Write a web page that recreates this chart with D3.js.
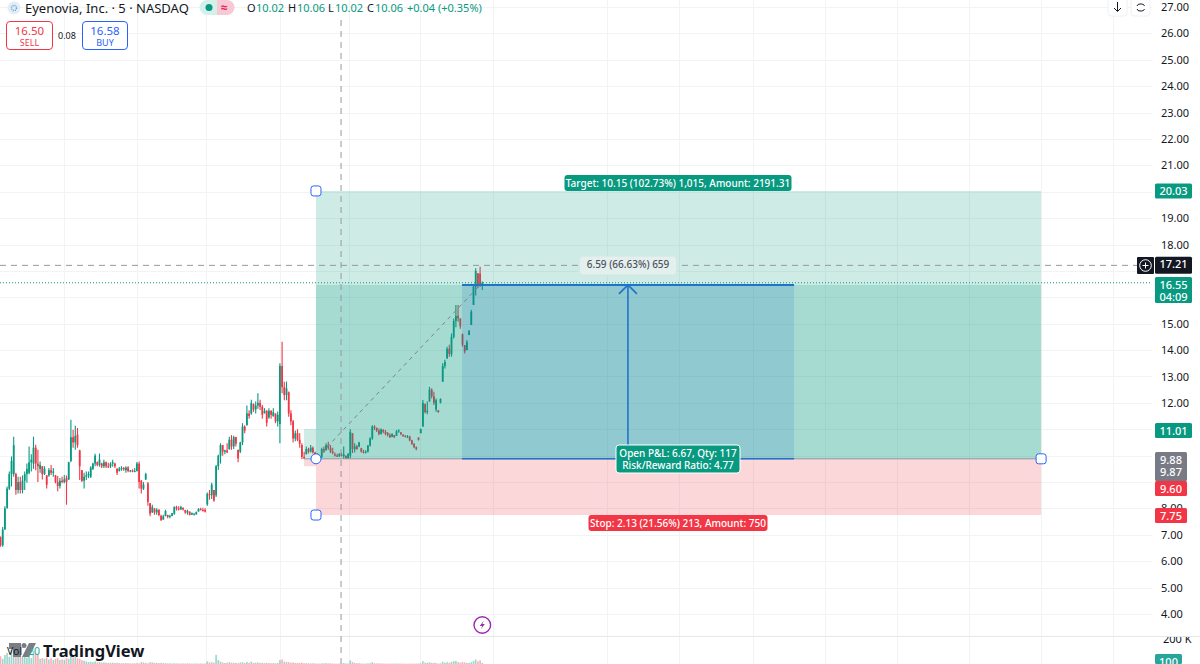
<!DOCTYPE html>
<html>
<head>
<meta charset="utf-8">
<script src="https://cdn.jsdelivr.net/npm/d3@7"></script>
<style>
  html, body { margin: 0; padding: 0; background: #fff; overflow: hidden; }
  text { font-family: "Noto Sans", "Open Sans", sans-serif; }
</style>
</head>
<body>
<svg id="chart" width="1200" height="664"></svg>
<script>
// 5 min candles, one row = 10 bars
const opens = [
  6.93,6.60,7.20,8.00,8.75,9.30,9.30,9.30,8.70,9.00,
  8.70,9.05,9.30,9.35,9.75,9.70,10.30,9.70,9.50,9.60,
  9.30,9.25,9.25,9.45,9.35,9.25,9.00,8.85,9.05,9.00,
  9.15,9.10,9.80,10.70,10.50,10.80,10.20,9.45,9.05,9.20,
  9.25,9.20,9.50,9.70,9.75,9.65,9.70,9.60,9.75,9.60,
  9.60,9.70,9.70,9.50,9.42,9.50,9.53,9.45,9.55,9.42,
  9.44,9.40,9.42,9.70,9.05,8.75,9.10,8.95,8.20,7.85,
  8.00,7.85,7.95,7.72,7.58,7.72,7.75,7.68,7.72,7.80,
  8.05,8.00,7.96,8.03,7.94,7.84,7.88,7.76,7.78,7.78,
  7.88,7.98,7.94,7.95,8.15,8.55,8.50,8.70,8.50,9.60,
  10.00,10.40,10.15,10.20,10.25,10.60,10.35,10.70,10.22,10.15,
  10.50,11.10,11.15,11.60,11.60,11.95,11.75,11.90,12.00,11.85,
  11.60,11.70,11.45,11.70,11.50,11.60,11.30,11.20,13.40,12.60,
  12.30,12.40,11.60,11.30,10.65,10.85,10.60,10.40,9.95,10.05,
  10.25,10.15,10.30,10.12,10.02,9.95,9.95,10.25,10.20,10.40,
  10.30,10.15,10.05,10.00,9.98,10.05,9.98,10.00,9.90,10.00,
  10.85,10.25,10.35,10.35,10.28,10.15,10.12,10.15,10.38,10.65,
  11.10,11.05,10.95,10.82,10.98,10.90,10.85,10.78,10.72,10.78,
  10.75,10.92,10.88,10.80,10.74,10.70,10.72,10.58,10.45,10.32,
  10.68,10.85,11.10,11.95,11.65,12.05,12.50,12.25,11.75,11.72,
  12.00,12.80,13.40,13.68,14.05,13.85,14.50,15.10,15.30,15.20,
  14.60,14.19,14.00,14.57,14.95,15.71,16.40,16.91,16.90,16.45
];
const highs = [
  6.93,7.30,8.08,8.83,9.40,9.97,10.72,9.35,9.20,9.20,
  9.25,9.40,9.70,10.35,10.05,10.72,10.41,10.22,9.78,9.60,
  9.60,9.27,9.53,9.65,9.53,9.27,9.23,9.15,9.20,9.27,
  9.25,9.77,11.36,10.98,11.13,11.05,10.22,9.46,9.35,9.40,
  9.40,9.60,9.73,10.07,9.78,10.08,9.73,9.84,9.78,9.73,
  9.75,9.84,9.73,9.53,9.57,9.60,9.57,9.60,9.60,9.46,
  9.48,9.53,9.76,9.78,9.08,9.00,9.35,9.00,8.20,8.14,
  8.01,8.01,7.97,7.76,7.76,7.95,7.76,7.76,7.83,8.08,
  8.10,8.08,8.10,8.03,7.95,7.95,7.88,7.85,7.82,7.88,
  8.01,8.03,8.03,8.01,8.60,8.70,8.97,8.70,9.65,10.03,
  10.47,10.40,10.22,10.47,10.72,10.78,10.75,10.72,10.22,10.53,
  11.23,11.15,11.90,11.72,12.12,11.98,12.05,12.36,12.12,11.92,
  11.80,11.72,11.80,11.72,11.80,11.60,11.67,13.50,14.32,12.80,
  12.81,12.43,11.72,11.35,10.95,11.00,10.85,10.47,10.15,10.35,
  10.30,10.40,10.35,10.15,10.10,10.03,10.30,10.35,10.47,10.53,
  10.40,10.30,10.12,10.07,10.10,10.12,10.35,10.00,10.10,11.00,
  10.85,10.47,10.40,10.53,10.30,10.22,10.20,10.40,10.70,11.15,
  11.15,11.07,11.03,11.03,11.00,10.97,10.90,10.85,10.85,10.78,
  10.97,11.00,10.90,10.80,10.78,10.78,10.75,10.60,10.47,10.35,
  10.70,11.03,12.11,11.98,12.05,12.61,12.55,12.42,12.17,11.72,
  12.17,13.50,13.63,14.13,14.20,14.63,15.20,15.71,15.71,15.20,
  14.63,14.19,14.38,14.76,15.53,16.47,17.10,16.91,17.16,16.60
];
const lows = [
  6.55,6.55,7.19,8.14,8.70,8.83,9.20,8.52,8.57,8.57,
  8.57,8.70,8.97,9.30,9.40,9.50,9.45,9.00,9.35,9.10,
  9.27,8.76,9.20,9.27,9.20,8.95,8.65,8.76,8.95,8.95,
  8.14,9.08,9.75,10.30,10.22,10.30,9.08,9.00,8.76,9.08,
  9.15,9.15,9.46,9.60,9.60,9.58,9.53,9.53,9.53,9.53,
  9.53,9.58,9.53,9.27,9.40,9.43,9.43,9.35,9.37,9.37,
  9.37,9.37,9.40,8.76,8.57,8.70,9.08,8.10,7.70,7.83,
  7.76,7.76,7.70,7.53,7.57,7.70,7.63,7.63,7.70,7.76,
  7.92,7.92,7.95,7.92,7.80,7.76,7.73,7.76,7.73,7.76,
  7.88,7.92,7.88,7.85,8.10,8.33,8.36,8.25,8.43,9.46,
  9.70,10.00,10.05,10.10,10.22,10.22,10.25,10.35,9.75,10.10,
  10.40,10.85,11.15,11.40,11.55,11.66,11.60,11.78,11.73,11.40,
  11.60,11.10,11.40,11.40,11.47,11.23,11.10,10.47,12.36,12.10,
  12.10,11.47,11.15,10.50,10.55,10.55,10.30,9.87,9.87,10.05,
  10.08,10.12,10.08,10.00,9.95,9.90,9.90,10.10,10.20,10.22,
  10.10,10.05,9.97,9.95,9.95,9.97,9.90,9.87,9.87,9.90,
  10.10,10.12,10.22,10.32,10.12,10.08,10.08,10.12,10.35,10.60,
  10.97,10.90,10.77,10.80,10.85,10.77,10.73,10.67,10.70,10.67,
  10.75,10.87,10.77,10.72,10.70,10.67,10.55,10.40,10.28,10.20,
  10.57,10.85,11.10,11.60,11.57,12.05,12.17,11.92,11.66,11.63,
  11.98,12.80,13.30,13.68,13.75,13.75,14.44,14.87,15.07,14.81,
  14.13,13.87,14.00,14.57,14.95,15.71,16.07,16.34,16.40,16.28
];
const closes = [
  6.60,7.20,8.00,8.75,9.30,9.80,10.40,8.70,9.00,8.70,
  9.05,9.30,9.50,9.75,9.85,10.30,9.70,9.60,9.65,9.30,
  9.50,8.90,9.45,9.35,9.40,9.00,8.85,9.05,9.00,9.10,
  9.00,9.75,10.70,10.50,10.75,10.40,9.60,9.05,9.20,9.25,
  9.30,9.55,9.70,10.00,9.65,9.85,9.60,9.75,9.60,9.58,
  9.70,9.75,9.60,9.35,9.50,9.53,9.48,9.55,9.42,9.44,
  9.40,9.42,9.70,9.00,8.75,8.90,9.30,8.25,7.80,8.05,
  7.85,7.95,7.75,7.55,7.70,7.90,7.68,7.72,7.82,8.05,
  8.00,7.96,8.05,7.96,7.84,7.90,7.76,7.82,7.80,7.86,
  7.98,7.94,7.90,7.88,8.55,8.50,8.90,8.30,9.60,10.00,
  10.40,10.15,10.20,10.12,10.60,10.35,10.70,10.45,9.90,10.50,
  11.10,10.95,11.60,11.50,12.00,11.75,11.90,12.00,11.85,11.55,
  11.70,11.25,11.70,11.55,11.65,11.30,11.55,13.40,12.60,12.30,
  12.55,11.60,11.30,10.65,10.85,10.60,10.45,9.95,9.90,10.25,
  10.15,10.30,10.12,10.02,10.00,10.00,10.25,10.15,10.40,10.30,
  10.15,10.10,10.00,9.98,10.05,10.00,10.05,9.90,10.05,10.90,
  10.25,10.35,10.25,10.50,10.15,10.12,10.15,10.38,10.65,11.10,
  11.05,10.95,10.82,11.00,10.90,10.82,10.78,10.70,10.82,10.70,
  10.92,10.95,10.82,10.74,10.72,10.72,10.58,10.45,10.32,10.25,
  10.60,11.00,12.00,11.65,11.70,12.50,12.25,12.00,12.10,11.65,
  12.15,13.40,13.55,14.05,13.85,14.50,15.10,15.30,15.20,14.90,
  14.20,13.95,14.30,14.72,15.45,16.40,17.00,16.45,16.50,16.55
];
// volume in thousands
const volumes = [
  60,40,70,85,55,108,90,75,60,65,
  55,70,50,60,45,100,80,70,40,45,
  40,50,35,45,30,40,45,30,35,30,
  45,40,65,50,55,45,40,30,25,20,
  15,18,14,20,12,15,10,12,10,9,
  9,10,8,9,7,6,6,7,6,5,
  5,5,6,5,15,12,8,6,14,12,
  10,8,7,9,7,6,5,5,4,6,
  5,4,4,4,4,5,4,3,3,4,
  4,4,3,4,20,12,14,10,70,30,
  18,12,8,10,14,10,10,8,6,12,
  14,8,16,9,18,8,10,12,8,9,
  7,9,7,6,7,6,8,30,35,18,
  15,14,10,12,8,8,8,10,6,6,
  5,5,6,4,4,3,5,5,6,5,
  5,4,3,3,3,3,8,4,4,28,
  15,8,6,6,4,3,3,5,6,14,
  6,5,5,4,4,4,3,3,3,3,
  4,3,3,3,2,2,3,3,3,3,
  4,5,22,10,9,14,8,9,7,3,
  5,18,10,14,10,16,22,24,14,10,
  16,12,8,8,14,24,35,20,28,8
];

const yTicks = d3.range(4, 28);
// these sit behind a price tag in the reference, so they never show
const hiddenTicks = [9, 10, 11, 16, 17, 20];
const gridBars = [28.9, 62, 93.4, 127, 158.4, 190.7, 223.9, 275.7, 308.4, 342, 374.8, 407.5, 440.2, 472.9, 505.7];

// long position tool
const targetPrice = 20.03, entryPrice = 9.88, stopPrice = 7.75, lastPrice = 16.55, crossPrice = 17.21;
const rangeTop = 16.47; // entry + 6.59
const toolStart = 143.4, toolEnd = 473, rangeStart = 209.8, rangeEnd = 360.7, arrowBar = 285.2, crossBar = 154.8, signalBar = 219;

const GREEN = "#089981", RED = "#f23645", BLUE = "#2173c9", HANDLE = "#2962ff";
const INK = "#131722";
const plotRight = 1152;

const svg = d3.select("#chart");

const x = d3.scaleLinear().domain([0, 219]).range([0.5, 482.3]);
const y = d3.scaleLinear().domain([27, 4]).range([7, 614]);
const yVol = d3.scaleLinear().domain([0, 200]).range([664, 638]);

function txt(g, px, py, s, size, fill, anchor, weight) {
  return g.append("text").attr("x", px).attr("y", py).text(s)
    .attr("font-size", size).attr("fill", fill)
    .attr("text-anchor", anchor || "start")
    .attr("font-weight", weight || 400);
}

// grid
const grid = svg.append("g").attr("stroke", "#f2f3f5").attr("stroke-width", 1);
yTicks.forEach(t => grid.append("line").attr("x1", 0).attr("x2", plotRight).attr("y1", Math.round(y(t)) + 0.5).attr("y2", Math.round(y(t)) + 0.5));
gridBars.forEach(b => grid.append("line").attr("x1", Math.round(x(b)) + 0.5).attr("x2", Math.round(x(b)) + 0.5).attr("y1", 0).attr("y2", 664));
svg.append("line").attr("x1", 0).attr("x2", 1200).attr("y1", 636.5).attr("y2", 636.5).attr("stroke", "#e6e8ec");

// volume
svg.append("g").selectAll("rect").data(volumes).join("rect")
  .attr("x", (d, i) => x(i) - 0.8).attr("width", 1.6)
  .attr("y", d => yVol(d)).attr("height", d => 664 - yVol(d))
  .attr("fill", (d, i) => closes[i] >= opens[i] ? GREEN : RED).attr("opacity", 0.4);

// candles
const candles = svg.append("g").selectAll("g").data(closes).join("g")
  .attr("fill", (d, i) => d >= opens[i] ? GREEN : RED)
  .attr("stroke", (d, i) => d >= opens[i] ? GREEN : RED);
candles.append("line")
  .attr("x1", (d, i) => x(i)).attr("x2", (d, i) => x(i))
  .attr("y1", (d, i) => y(highs[i])).attr("y2", (d, i) => y(lows[i]))
  .attr("stroke-width", 1.1);
candles.append("rect")
  .attr("x", (d, i) => x(i) - 0.9).attr("width", 1.8)
  .attr("y", (d, i) => y(Math.max(opens[i], d)))
  .attr("height", (d, i) => Math.max(1, Math.abs(y(opens[i]) - y(d))))
  .attr("stroke", "none");

// position tool
const tool = svg.append("g");
const tx0 = x(toolStart), tx1 = x(toolEnd);
tool.append("rect").attr("x", tx0).attr("width", tx1 - tx0).attr("y", y(targetPrice)).attr("height", y(entryPrice) - y(targetPrice)).attr("fill", "rgba(8,153,129,.2)");
tool.append("rect").attr("x", tx0).attr("width", tx1 - tx0).attr("y", y(rangeTop)).attr("height", y(entryPrice) - y(rangeTop)).attr("fill", "rgba(8,153,129,.2)");
tool.append("rect").attr("x", tx0).attr("width", tx1 - tx0).attr("y", y(entryPrice)).attr("height", y(stopPrice) - y(entryPrice)).attr("fill", "rgba(242,54,69,.2)");
tool.append("rect").attr("x", x(rangeStart)).attr("width", x(rangeEnd) - x(rangeStart)).attr("y", y(rangeTop)).attr("height", y(entryPrice) - y(rangeTop)).attr("fill", "rgba(19,104,197,.15)");
// little stub left of the tool
tool.append("rect").attr("x", x(138)).attr("width", tx0 - x(138)).attr("y", y(11.01)).attr("height", y(entryPrice) - y(11.01)).attr("fill", "rgba(8,153,129,.2)");
tool.append("rect").attr("x", x(138)).attr("width", tx0 - x(138)).attr("y", y(entryPrice)).attr("height", y(9.6) - y(entryPrice)).attr("fill", "rgba(242,54,69,.2)");
tool.append("line").attr("x1", x(138)).attr("x2", tx1).attr("y1", y(entryPrice)).attr("y2", y(entryPrice)).attr("stroke", "#8f9aa3").attr("stroke-width", 1);
// range lines + arrow
[rangeTop, entryPrice].forEach((p, i) => tool.append("line").attr("x1", x(rangeStart)).attr("x2", x(rangeEnd))
  .attr("y1", y(p)).attr("y2", y(p)).attr("stroke", BLUE).attr("stroke-width", i ? 1.5 : 2));
const ax = x(arrowBar), ay = y(rangeTop);
tool.append("line").attr("x1", ax).attr("x2", ax).attr("y1", y(entryPrice)).attr("y2", ay).attr("stroke", BLUE).attr("stroke-width", 1.6);
tool.append("path").attr("d", d3.line()([[ax - 9, ay + 9], [ax, ay], [ax + 9, ay + 9]])).attr("fill", "none").attr("stroke", BLUE).attr("stroke-width", 1.6);
// diagonal to the crosshair
tool.append("line").attr("x1", tx0).attr("y1", y(entryPrice)).attr("x2", x(218)).attr("y2", y(rangeTop))
  .attr("stroke", "#7f8289").attr("stroke-width", 1).attr("stroke-dasharray", "4 4");

// last price + crosshair
svg.append("line").attr("x1", 0).attr("x2", plotRight).attr("y1", y(lastPrice)).attr("y2", y(lastPrice))
  .attr("stroke", GREEN).attr("stroke-width", 1).attr("stroke-dasharray", "1 2");
svg.append("line").attr("x1", 0).attr("x2", 1137).attr("y1", y(crossPrice)).attr("y2", y(crossPrice))
  .attr("stroke", "#9598a1").attr("stroke-width", 1).attr("stroke-dasharray", "6 5");
svg.append("line").attr("x1", x(crossBar)).attr("x2", x(crossBar)).attr("y1", 20).attr("y2", 664)
  .attr("stroke", "#9598a1").attr("stroke-width", 1).attr("stroke-dasharray", "6 5");

// y axis
const axisG = svg.append("g").attr("transform", "translate(1161,0)")
  .call(d3.axisRight(y).tickValues(yTicks.filter(t => !hiddenTicks.includes(t))).tickSize(0).tickPadding(0).tickFormat(d3.format(".2f")));
axisG.select(".domain").remove();
axisG.selectAll("text").attr("font-size", 11).attr("fill", INK).style("font-family", '"Noto Sans", sans-serif');

const clip = svg.append("clipPath").attr("id", "volClip");
clip.append("rect").attr("x", 1150).attr("y", 637).attr("width", 50).attr("height", 27);
txt(svg, 1163, 642.5, "200 K", 11, INK).attr("clip-path", "url(#volClip)");

// price tags
function tag(px, py, w, h, fill, lines) {
  const g = svg.append("g");
  g.append("rect").attr("x", px).attr("y", py).attr("width", w).attr("height", h).attr("rx", 1.5).attr("fill", fill);
  lines.forEach((l, i) => txt(g, px + w / 2, py + 11.5 + i * 12.5, l, 11, "#fff", "middle", 500));
}
tag(1155, y(targetPrice) - 7.5, 37, 15, GREEN, ["20.03"]);
tag(1155, y(crossPrice) - 8.5, 37, 17, INK, ["17.21"]);
tag(1155, 277, 37, 26, GREEN, ["16.55", "04:09"]);
tag(1155, 423, 37, 15, GREEN, ["11.01"]);
tag(1155, 452, 32, 29, "#787b86", ["9.88", "9.87"]);
tag(1155, 481, 32, 15, RED, ["9.60"]);
tag(1155, 508, 32, 15, RED, ["7.75"]);
tag(1155, 654, 27, 10, "#26a69a", ["100"]);

// add-order button
const plus = svg.append("g");
plus.append("rect").attr("x", 1137).attr("y", 257).attr("width", 17).attr("height", 17).attr("fill", INK).attr("rx", 1);
plus.append("circle").attr("cx", 1145.5).attr("cy", 265.5).attr("r", 5.8).attr("fill", "none").attr("stroke", "#fff");
plus.append("path").attr("d", "M1142.5 265.5h6M1145.5 262.5v6").attr("stroke", "#fff").attr("fill", "none");

// position labels
function badge(cx, top, w, h, fill, lines, color, stroke) {
  const g = svg.append("g");
  g.append("rect").attr("x", cx - w / 2).attr("y", top).attr("width", w).attr("height", h).attr("rx", 3)
    .attr("fill", fill).attr("stroke", stroke || "none");
  lines.forEach((l, i) => txt(g, cx, top + 12 + i * 11.5, l, 10, color || "#fff", "middle", 500));
}
badge(678, 175, 227, 16, GREEN, ["Target: 10.15 (102.73%) 1,015, Amount: 2191.31"]);
badge(678, 515, 179, 16, RED, ["Stop: 2.13 (21.56%) 213, Amount: 750"]);
badge(678, 445, 124, 28, GREEN, ["Open P&L: 6.67, Qty: 117", "Risk/Reward Ratio: 4.77"], "#fff", "#fff");
badge(628, 256, 97, 19, "#e3f0ee", ["6.59 (66.63%) 659"], "#50535e", "#d5e6e3");

// handles
function handle(px, py) {
  svg.append("rect").attr("x", px - 5).attr("y", py - 5).attr("width", 10).attr("height", 10).attr("rx", 2.5)
    .attr("fill", "#fff").attr("stroke", HANDLE).attr("stroke-width", 1);
}
handle(tx0, y(targetPrice));
handle(tx0, y(stopPrice));
handle(tx1, y(entryPrice));
svg.append("circle").attr("cx", tx0).attr("cy", y(entryPrice)).attr("r", 5).attr("fill", "#fff").attr("stroke", HANDLE);

// header
const head = svg.append("g");
head.append("circle").attr("cx", 14).attr("cy", 8).attr("r", 6.5).attr("fill", "#e3ecf7");
head.append("circle").attr("cx", 14).attr("cy", 8).attr("r", 2.5).attr("fill", "none").attr("stroke", "#5aa9c9").attr("stroke-width", 1.5).attr("stroke-dasharray", "1 1");
txt(head, 25, 13, "Eyenovia, Inc. · 5 · NASDAQ", 13, INK);
head.append("path").attr("d", "M217 0h-10a7.5 7.5 0 0 0 0 15h10z").attr("fill", "#d5efeb");
head.append("path").attr("d", "M217 0h10a7.5 7.5 0 0 1 0 15h-10z").attr("fill", "#f7c9d4");
head.append("circle").attr("cx", 209).attr("cy", 7.5).attr("r", 3.5).attr("fill", GREEN);
txt(head, 224.5, 11.5, "≈", 12, "#e91e63", "middle", 700);

const ohlcKeys = ["O", "H", "L", "C"], ohlcVals = ["10.02", "10.06", "10.02", "10.06"], ohlcX = [247, 288, 328, 367], ohlcValX = [256, 297, 335, 375];
ohlcKeys.forEach((k, i) => {
  txt(head, ohlcX[i], 12, k, 11, INK);
  txt(head, ohlcValX[i], 12, ohlcVals[i], 11, GREEN);
});
txt(head, 407, 12, "+0.04 (+0.35%)", 11, GREEN);

// buy / sell
function tradeBox(px, w, price, label, color) {
  const g = svg.append("g");
  g.append("rect").attr("x", px).attr("y", 21.5).attr("width", w).attr("height", 28).attr("rx", 3.5).attr("fill", "#fff").attr("stroke", color);
  txt(g, px + w / 2, 35, price, 11.5, color, "middle");
  txt(g, px + w / 2, 46, label, 9, color, "middle");
}
tradeBox(6.5, 46, "16.50", "SELL", RED);
tradeBox(82.5, 45, "16.58", "BUY", HANDLE);
txt(svg, 67, 39, "0.08", 9, INK, "middle");

// top right buttons
const btn = svg.append("g");
[1108, 1131].forEach(bx => btn.append("rect").attr("x", bx).attr("y", -4).attr("width", 19).attr("height", 20).attr("rx", 3).attr("fill", "#fff").attr("stroke", "#eef0f3"));
btn.append("path").attr("d", "M1117.5 2v9M1114 8l3.500 3.500 3.500-3.500").attr("fill", "none").attr("stroke", INK);
btn.append("path").attr("d", "M1137 6a3 3 0 0 1 3-2h1.500a3 3 0 0 1 3 2M1144.500 9a3 3 0 0 1-3 2h-1.500a3 3 0 0 1-3-2").attr("fill", "none").attr("stroke", INK);

// watermark + volume legend
const logo = svg.append("g");
logo.append("path").attr("d", "M9 643h12v14h-8v-8h-4z").attr("fill", "#7b7d82");
logo.append("circle").attr("cx", 24).attr("cy", 645.500).attr("r", 2.500).attr("fill", "#7b7d82");
logo.append("path").attr("d", "M29 643h7l-7 14h-7z").attr("fill", "#7b7d82");
txt(logo, 43, 656.5, "TradingView", 16.5, INK, "start", 700);
txt(svg, 7, 655, "Vol", 10.5, INK);
txt(svg, 28, 655, "20", 10.5, "#26a69a");

// signal marker
const sig = svg.append("g").attr("transform", `translate(${x(signalBar)},625)`);
sig.append("circle").attr("r", 8.3).attr("fill", "#fff").attr("stroke", "#9c27b0").attr("stroke-width", 1.4);
sig.append("path").attr("d", "M1.500-4.500L-2.500 1h2.500L-1.500 4.500L2.500-1h-2.500z").attr("fill", "#9c27b0");
</script>
</body>
</html>
